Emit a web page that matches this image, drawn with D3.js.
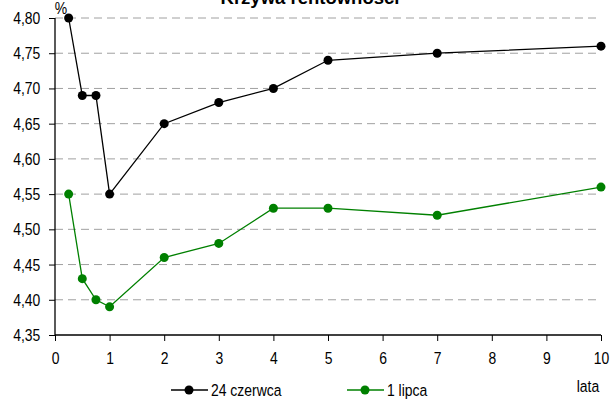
<!DOCTYPE html>
<html><head><meta charset="utf-8">
<script src="https://cdn.jsdelivr.net/npm/d3@7"></script>
<style>body{margin:0;background:#fff;} svg{display:block;font-family:"Liberation Sans",Arial,sans-serif;}</style>
</head><body>
<svg id="c" width="610" height="401"></svg>
<script>
const maturities = [0.25, 0.5, 0.75, 1, 2, 3, 4, 5, 7, 10];
const june24 = [4.80, 4.69, 4.69, 4.55, 4.65, 4.68, 4.70, 4.74, 4.75, 4.76];
const july1 = [4.55, 4.43, 4.40, 4.39, 4.46, 4.48, 4.53, 4.53, 4.52, 4.56];
const seriesNames = ["24 czerwca", "1 lipca"];
const seriesColors = ["#000000", "#008000"];
const yTicks = [4.35, 4.40, 4.45, 4.50, 4.55, 4.60, 4.65, 4.70, 4.75, 4.80];
const xTicks = [0,1,2,3,4,5,6,7,8,9,10];

const FONT = '"Liberation Sans",Arial,sans-serif';
const SX = 0.82; // condensed look
const svg = d3.select("#c");
const x = d3.scaleLinear().domain([0,10]).range([55,601]);
const y = d3.scaleLinear().domain([4.35,4.80]).range([335,18]);

function narrowText(px, py, str, size, anchor){
  return svg.append("text").attr("transform",`translate(${px},${py}) scale(${SX},1)`)
    .attr("text-anchor",anchor||"start").attr("font-size",size).attr("font-family",FONT).text(str);
}

svg.append("text").attr("x",310).attr("y",4).attr("text-anchor","middle")
  .attr("font-size",18.5).attr("font-weight","bold").attr("font-family",FONT)
  .text("Krzywa rentowności");

svg.append("g").selectAll("line").data(yTicks.filter(d=>d>4.36)).join("line")
  .attr("x1",55).attr("x2",601).attr("y1",d=>y(d)).attr("y2",d=>y(d))
  .attr("stroke","#a0a0a0").attr("stroke-width",1).attr("stroke-dasharray","8,5");

const fmt = d=>d3.format(".2f")(d).replace(".",",");
const ya = svg.append("g").attr("transform","translate(55,0)")
  .call(d3.axisLeft(y).tickValues(yTicks).tickFormat(fmt).tickSize(6).tickPadding(12));
const xa = svg.append("g").attr("transform","translate(0,335)")
  .call(d3.axisBottom(x).tickValues(xTicks).tickSize(6).tickPadding(11));
[ya,xa].forEach(a=>{
  a.select(".domain").attr("stroke","#000").attr("stroke-width",1.3);
  a.selectAll(".tick line").attr("stroke","#000");
  a.selectAll("text").attr("font-size",17).attr("fill","#000").attr("font-family",FONT)
    .attr("transform",`scale(${SX},1)`);
});
xa.select(".domain").attr("d","M55,0H601");
ya.select(".domain").attr("d","M0,18V335");

narrowText(61, 14, "%", 17, "middle");
narrowText(588, 392, "lata", 17, "middle");

const data = [june24, july1];
const line = d3.line().x((d,i)=>x(maturities[i])).y(d=>y(d));
data.forEach((s,k)=>{
  const g = svg.append("g");
  g.append("path").attr("d",line(s)).attr("fill","none").attr("stroke",seriesColors[k]).attr("stroke-width",1.3);
  g.selectAll("circle").data(s).join("circle")
    .attr("cx",(d,i)=>x(maturities[i])).attr("cy",d=>y(d)).attr("r",4.5).attr("fill",seriesColors[k]);
});

const legX = [171, 347];
seriesNames.forEach((n,k)=>{
  const g = svg.append("g").attr("transform",`translate(${legX[k]},390)`);
  g.append("line").attr("x1",0).attr("x2",37).attr("stroke",seriesColors[k]).attr("stroke-width",1.3);
  g.append("circle").attr("cx",18).attr("r",4.5).attr("fill",seriesColors[k]);
  narrowText(legX[k]+40, 396, n, 17, "start");
});
</script>
</body></html>
